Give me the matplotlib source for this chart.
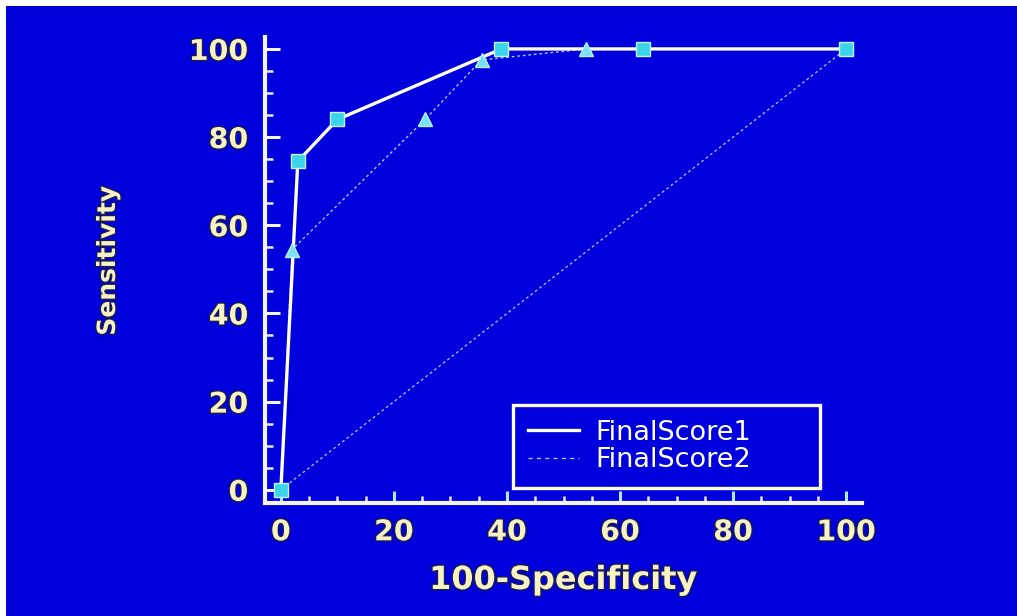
import matplotlib
matplotlib.use('Agg')
import matplotlib.pyplot as plt
import matplotlib.patheffects as pe
from matplotlib.lines import Line2D
from matplotlib.patches import Rectangle

# ROC points
fs1_x = [0, 3, 10, 39, 64, 100]
fs1_y = [0, 74.5, 84, 100, 100, 100]
fs2_x = [0, 2, 25.5, 35.5, 54, 100]
fs2_y = [0, 54.5, 84, 97.5, 100, 100]
diag_x = [0, 100]
diag_y = [0, 100]
labels = ['FinalScore1', 'FinalScore2']

blue = '#0000dc'
txt_col = '#f6f2c4'
outline = [pe.withStroke(linewidth=2, foreground='#1a1a50')]

fig = plt.figure(figsize=(10.17, 6.16), dpi=100, facecolor='white')
fig.patches.append(Rectangle((6 / 1017, 0), 1, 1 - 6 / 616, transform=fig.transFigure,
                             facecolor=blue, edgecolor='none', zorder=-10))

ax = fig.add_axes([0.2606, 0.1834, 0.587, 0.7565])
ax.set_facecolor(blue)

ax.plot(diag_x, diag_y, color='#9fb8ff', lw=1, ls=(0, (2, 2)), zorder=2)
ax.plot(fs2_x, fs2_y, color='#a8c4ff', lw=1, ls=(0, (2, 2)), zorder=3)
ax.plot(fs1_x, fs1_y, color='white', lw=2.4, zorder=4)
ax.plot(fs2_x[1:-1], fs2_y[1:-1], ls='none', marker='^', ms=10.5,
        mfc='#78e2f2', mec='#b8f0ff', mew=1, zorder=5)
ax.plot(fs1_x, fs1_y, ls='none', marker='s', ms=10.5,
        mfc='#3cd4e8', mec='#c0f4ff', mew=1, zorder=6)

ax.set_xlim(-2.8, 102.8)
ax.set_ylim(-3, 102.7)

for s in ['top', 'right']:
    ax.spines[s].set_visible(False)
for s in ['left', 'bottom']:
    ax.spines[s].set_color('#f4f4ff')
    ax.spines[s].set_linewidth(3)

ax.set_xticks([0, 20, 40, 60, 80, 100])
ax.set_yticks([0, 20, 40, 60, 80, 100])
ax.set_xticks(range(0, 101, 5), minor=True)
ax.set_yticks(range(0, 101, 5), minor=True)
ax.tick_params(axis='y', which='major', direction='in', length=11, width=2.2,
               color='#f4f4ff', pad=12, labelsize=20.5, labelcolor=txt_col)
ax.tick_params(axis='y', which='minor', direction='in', length=6, width=1.8, color='#e8e8ff')
ax.tick_params(axis='x', which='major', direction='in', length=9, width=2.2,
               color='#a8ecff', pad=11, labelsize=20.5, labelcolor=txt_col)
ax.tick_params(axis='x', which='minor', direction='in', length=5, width=1.8, color='#e8e8ff')
for t in ax.get_xticklabels() + ax.get_yticklabels():
    t.set_path_effects(outline)
    t.set_fontweight('bold')

ax.set_xlabel('100-Specificity', fontsize=23, fontweight='bold', color=txt_col,
              path_effects=outline)
ax.set_ylabel('Sensitivity', fontsize=18, fontweight='bold', color=txt_col,
              path_effects=outline)
ax.xaxis.set_label_coords(0.5, -0.133)
ax.yaxis.set_label_coords(-0.243, 0.52)

handles = [Line2D([], [], color='white', lw=2.4),
           Line2D([], [], color='#a8c4ff', lw=1, ls=(0, (3, 3)))]
leg = ax.legend(handles, labels, loc='lower left', bbox_to_anchor=(0.415, 0.032, 0.515, 0.183),
                mode='expand', frameon=True, fancybox=False, framealpha=1, fontsize=19.5,
                labelcolor='white', handlelength=1.9, handletextpad=0.6,
                labelspacing=0.05, borderpad=0.55, borderaxespad=0)
leg.get_frame().set_facecolor(blue)
leg.get_frame().set_edgecolor('white')
leg.get_frame().set_linewidth(2.4)

fig.savefig('out.png', dpi=100, facecolor=fig.get_facecolor())
